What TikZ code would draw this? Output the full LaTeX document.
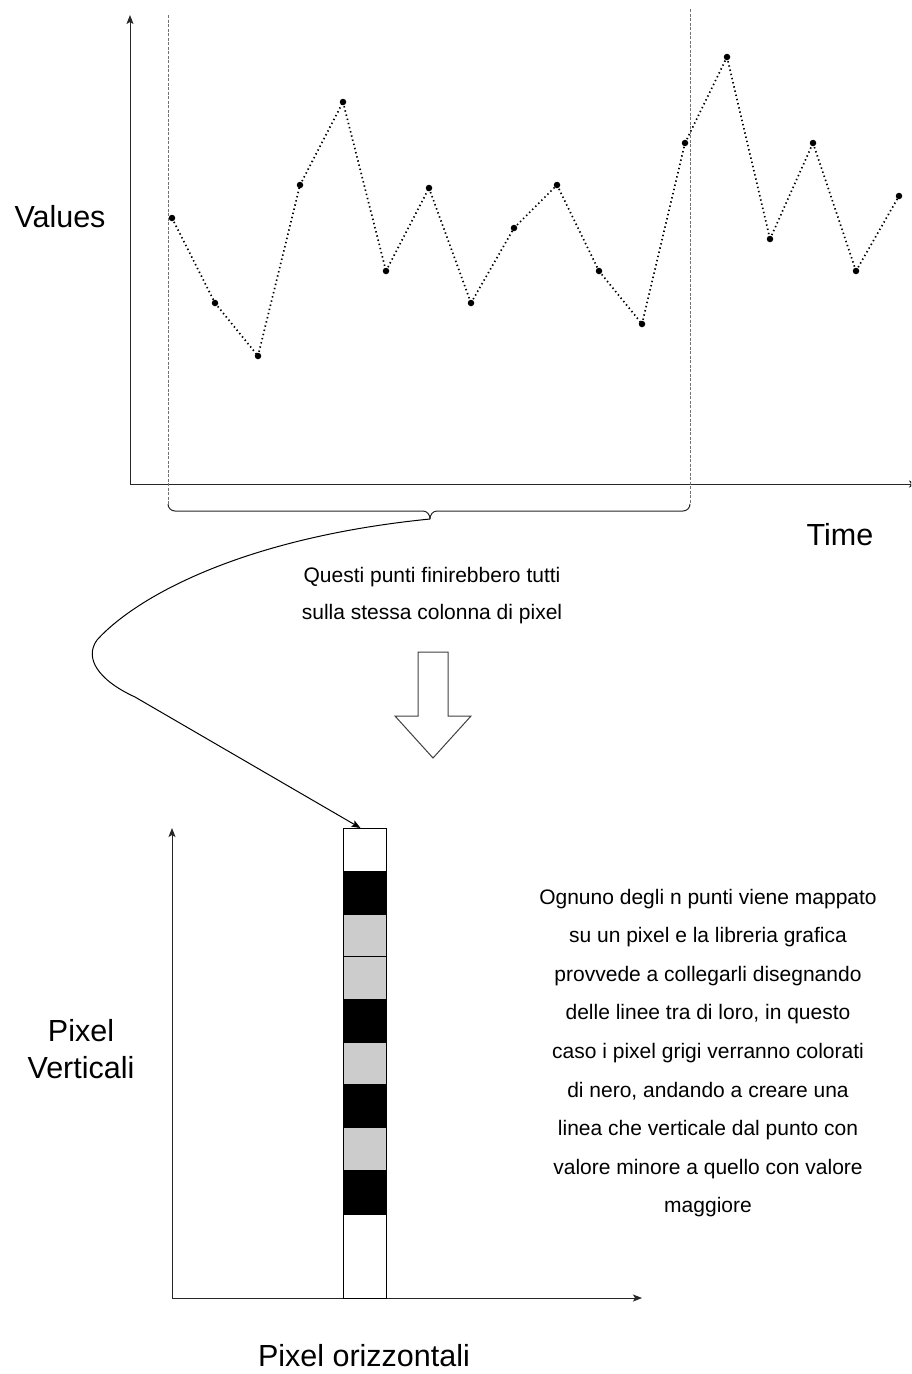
\documentclass[tikz,border=0pt]{standalone}
\usepackage{fontspec}
\setmainfont{Liberation Sans}
\usetikzlibrary{arrows.meta}
\begin{document}
\begin{tikzpicture}[x=1pt,y=-1pt,
  ax/.style={line width=1pt, draw=black!85, -{Stealth[length=9pt,width=7pt,inset=2pt]}},
  pt/.style={circle, fill=black, inner sep=0pt, minimum size=6.5pt},
  dots/.style={line width=1.7pt, dash pattern=on 1.4pt off 2.9pt},
  guide/.style={draw=black!55, line width=0.9pt, dash pattern=on 3pt off 1.5pt},
  big/.style={font=\fontsize{30.5}{37}\selectfont, align=center, inner sep=0pt},
  small/.style={font=\fontsize{21}{37}\selectfont, align=center, inner sep=0pt},
  rtext/.style={font=\fontsize{21}{38.6}\selectfont, align=center, inner sep=0pt},
  cell/.style={draw=black, line width=1pt, minimum width=43pt, inner sep=0pt, outer sep=0pt, anchor=north west},
  blockarrow/.style={draw=black!75, line width=1pt, fill=white, line join=miter}
]
\useasboundingbox (0,0) rectangle (911,1374);
\clip (0,0) rectangle (911,1374);

% ---- top chart axes
\coordinate (o1) at (130,484);
\coordinate (y1) at (130,15);
\coordinate (x1) at (918,484);
\draw[ax] (o1) -- (y1);
\draw[ax] (o1) -- (x1);

% guides and brace
\coordinate (gl) at (168,15);
\coordinate (glb) at (168,504);
\coordinate (gr) at (690,9);
\coordinate (grb) at (690,504);
\draw[guide] (gl) -- (glb);
\draw[guide] (gr) -- (grb);
\coordinate (bt) at (430,519);
\draw[line width=1pt, draw=black!85] (glb) to[out=-90,in=180] (175,511) -- (423,511) to[out=0,in=90] (bt);
\draw[line width=1pt, draw=black!85] (grb) to[out=-90,in=0] (683,511) -- (437,511) to[out=180,in=90] (bt);

% data points
\foreach \px/\py [count=\i] in {172/218,215/303,258/356,300/185,343/102,386/271,429/188,471/303,514/228,557/185,599/271,642/324,685/143,727/57,770/239,813/143,856/271,899/196}
  \node[pt] (p\i) at (\px,\py) {};
\foreach \i [evaluate=\i as \j using int(\i+1)] in {1,...,17}
  \draw[dots] (p\i.center) -- (p\j.center);

% labels
\node[big] (values) at (60,217) {Values};
\node[big] (time) at (840,535) {Time};
\node[small] (questi) at (432,596) {Questi punti finirebbero tutti\\sulla stessa colonna di pixel};

% block arrow
\draw[blockarrow] (418,652) -- (448,652) -- (448,716) -- (471,716) -- (433,758) -- (395,716) -- (418,716) -- cycle;

% ---- bottom chart axes
\coordinate (o2) at (172,1298);
\coordinate (y2) at (172,828);
\coordinate (x2) at (642,1298);
\draw[ax] (o2) -- (y2);
\draw[ax] (o2) -- (x2);

% pixel column
\node[cell, fill=white, minimum height=43pt] (c0) at (343,828) {};
\node[cell, fill=black, minimum height=43pt] (c1) at (343,871) {};
\node[cell, fill={rgb,255:red,204;green,204;blue,204}, minimum height=42pt] (c2) at (343,914) {};
\node[cell, fill={rgb,255:red,204;green,204;blue,204}, minimum height=43pt] (c3) at (343,956) {};
\node[cell, fill=black, minimum height=43pt] (c4) at (343,999) {};
\node[cell, fill={rgb,255:red,204;green,204;blue,204}, minimum height=42pt] (c5) at (343,1042) {};
\node[cell, fill=black, minimum height=43pt] (c6) at (343,1084) {};
\node[cell, fill={rgb,255:red,204;green,204;blue,204}, minimum height=43pt] (c7) at (343,1127) {};
\node[cell, fill=black, minimum height=44pt] (c8) at (343,1170) {};
\node[cell, fill=white, minimum height=84pt] (c9) at (343,1214) {};

% curved connector from brace to column
\draw[line width=1pt, -{Stealth[length=9pt,width=7pt,inset=2pt]}] (bt) .. controls (240,538) and (135,598) .. (97,640) .. controls (84,658) and (98,680) .. (135,697) -- ([xshift=-4pt]c0.north);

% bottom labels
\node[big] (pv) at (81,1049) {Pixel\\Verticali};
\node[big] (po) at (364,1356) {Pixel orizzontali};
\node[rtext] (desc) at (708,1053) {Ognuno degli n punti viene mappato\\su un pixel e la libreria grafica\\provvede a collegarli disegnando\\delle linee tra di loro, in questo\\caso i pixel grigi verranno colorati\\di nero, andando a creare una\\linea che verticale dal punto con\\valore minore a quello con valore\\maggiore};
\end{tikzpicture}
\end{document}
